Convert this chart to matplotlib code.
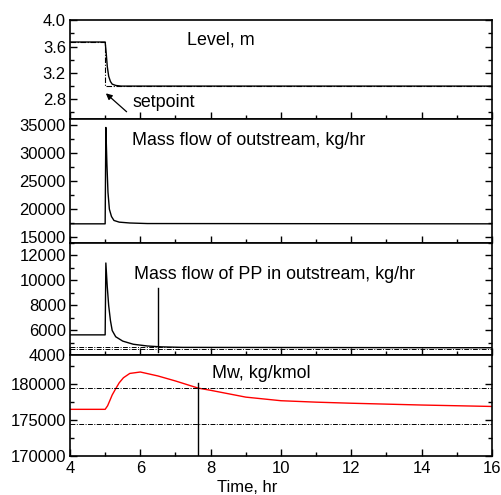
import matplotlib
matplotlib.use("Agg")
import matplotlib.pyplot as plt
from matplotlib.ticker import MultipleLocator

plt.rcParams["font.family"] = ["Liberation Sans", "DejaVu Sans"]
plt.rcParams["font.size"] = 12

# Level, m
level_t = [4, 5.0, 5.03, 5.06, 5.1, 5.15, 5.2, 5.3, 5.45, 16]
level_v = [3.67, 3.67, 3.5, 3.3, 3.15, 3.07, 3.03, 3.01, 3.0, 3.0]
setpoint_t = [4, 5.0, 5.0, 16]
setpoint_v = [3.67, 3.67, 3.0, 3.0]

# Mass flow of outstream, kg/hr
flow_t = [4, 5.0, 5.02, 5.05, 5.08, 5.12, 5.18, 5.25, 5.4, 5.7, 6.2, 16]
flow_v = [17400, 17400, 34500, 28000, 23000, 20000, 18700, 18000, 17700, 17550, 17450, 17400]

# Mass flow of PP in outstream, kg/hr
pp_t = [4, 5.0, 5.02, 5.06, 5.1, 5.15, 5.2, 5.3, 5.5, 5.8, 6.2, 6.6, 7.2, 16]
pp_v = [5650, 5650, 11400, 9500, 8000, 6800, 6000, 5500, 5150, 4900, 4760, 4690, 4650, 4620]
pp_bounds = [4680, 4480]
pp_marker_t = 6.5
pp_marker_range = [4260, 9400]

# Mw, kg/kmol
mw_t = [4, 5.0, 5.07, 5.14, 5.2, 5.28, 5.4, 5.52, 5.7, 6.0, 6.5, 7.0, 7.65, 8.0, 9.0, 10, 11, 12, 14, 16]
mw_v = [176500, 176500, 177000, 177800, 178500, 179200, 180200, 180900, 181500, 181700,
        181150, 180450, 179450, 179150, 178200, 177700, 177500, 177350, 177100, 176900]
mw_bounds = [179500, 174500]
mw_marker_t = 7.65
mw_marker_range = [170000, 180100]

dashdot = (0, (5, 1.5, 1, 1.5))
label_size = 12.9

fig = plt.figure(figsize=(5.01, 4.95), dpi=100)
gs = fig.add_gridspec(4, 1, height_ratios=[98.7, 124, 112.5, 100.5], hspace=0,
                      left=0.1397, right=0.982, top=0.959, bottom=0.0788)
axes = [fig.add_subplot(gs[i]) for i in range(4)]
for ax in axes[1:]:
    ax.sharex(axes[0])

ax1, ax2, ax3, ax4 = axes

ax1.plot(setpoint_t, setpoint_v, color="black", lw=0.8, ls=dashdot)
ax1.plot(level_t, level_v, color="black", lw=1.0)
ax1.set_ylim(2.5, 4.0)
ax1.yaxis.set_major_locator(MultipleLocator(0.4))
ax1.yaxis.set_minor_locator(MultipleLocator(0.2))
ax1.yaxis.set_major_formatter(lambda v, p: f"{v:.1f}")
ax1.text(0.277, 0.80, "Level, m", transform=ax1.transAxes, va="center", ha="left",
         fontsize=label_size)
# arrow pointing at the setpoint step
ax1.annotate("", xy=(5.02, 2.89), xytext=(5.61, 2.61),
             arrowprops=dict(arrowstyle="-|>", color="black", lw=0.9,
                             mutation_scale=9, shrinkA=0, shrinkB=0))
ax1.text(5.79, 2.75, "setpoint", va="center", ha="left", fontsize=label_size)

ax2.plot(flow_t, flow_v, color="black", lw=1.0)
ax2.set_ylim(14000, 36000)
ax2.yaxis.set_major_locator(MultipleLocator(5000))
ax2.yaxis.set_minor_locator(MultipleLocator(2500))
ax2.text(0.148, 0.825, "Mass flow of outstream, kg/hr", transform=ax2.transAxes,
         va="center", ha="left", fontsize=label_size)

ax3.plot(pp_t, pp_v, color="black", lw=1.0)
for b in pp_bounds:
    ax3.axhline(b, color="black", lw=0.7, ls=dashdot)
ax3.plot([pp_marker_t, pp_marker_t], pp_marker_range, color="black", lw=1.0)
ax3.set_ylim(4000, 13000)
ax3.yaxis.set_major_locator(MultipleLocator(2000))
ax3.yaxis.set_minor_locator(MultipleLocator(1000))
ax3.text(0.152, 0.716, "Mass flow of PP in outstream, kg/hr", transform=ax3.transAxes,
         va="center", ha="left", fontsize=label_size)

ax4.plot(mw_t, mw_v, color="#ff0000", lw=1.0)
for b in mw_bounds:
    ax4.axhline(b, color="black", lw=0.7, ls=dashdot)
ax4.plot([mw_marker_t, mw_marker_t], mw_marker_range, color="black", lw=1.0)
ax4.set_ylim(170000, 184000)
ax4.yaxis.set_major_locator(MultipleLocator(5000))
ax4.yaxis.set_minor_locator(MultipleLocator(2500))
ax4.text(0.337, 0.823, "Mw, kg/kmol", transform=ax4.transAxes, va="center", ha="left",
         fontsize=label_size)

ax4.set_xlim(4, 16)
ax4.xaxis.set_major_locator(MultipleLocator(2))
ax4.xaxis.set_minor_locator(MultipleLocator(1))
ax4.set_xlabel("Time, hr", va="bottom")
ax4.xaxis.set_label_coords(0.42, -0.385)

for ax in axes:
    for s in ax.spines.values():
        s.set_linewidth(1.2)
    ax.tick_params(which="both", direction="in", bottom=True, left=True,
                   top=False, right=False, width=1.0)
    ax.tick_params(which="major", length=5)
    ax.tick_params(which="minor", length=3)
    ax.tick_params(axis="y", which="both", right=True, labelright=False, pad=3)
    if ax is not ax4:
        ax.tick_params(axis="x", labelbottom=False)

fig.savefig("out.png", dpi=100)
